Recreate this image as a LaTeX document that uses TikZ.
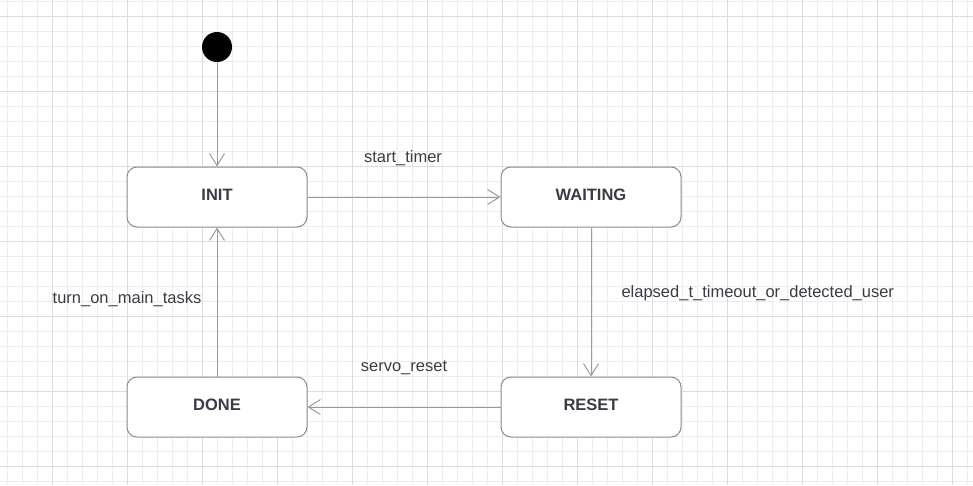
\documentclass[tikz,border=0pt]{standalone}
\usepackage{fontspec}
\setmainfont{Liberation Sans}
\usetikzlibrary{arrows.meta}

\definecolor{gridminor}{HTML}{EDEDED}
\definecolor{gridmajor}{HTML}{DCDCDC}
\definecolor{edgegray}{HTML}{9A9A9A}
\definecolor{boxgray}{HTML}{8A8A8A}
\definecolor{textgray}{HTML}{3B3B45}

\tikzset{
    state/.style={draw=boxgray, fill=white, line width=1pt, rounded corners=10pt,
        minimum width=180pt, minimum height=60pt, text=textgray,
        text height=12pt, text depth=5pt,
        font=\fontsize{16.5}{19}\selectfont\bfseries},
    startdot/.style={circle, fill=black, inner sep=0pt, minimum size=30pt},
    trans/.style={draw=edgegray, line width=1pt, -{Straight Barb[length=12pt,width=15pt]}},
    lbl/.style={text=textgray, font=\fontsize{16.5}{19}\selectfont}
}

\begin{document}
\begin{tikzpicture}[x=1pt,y=-1pt]
                \useasboundingbox (0,0) rectangle (973,485);

                % background grid
                \foreach \x in {7.5,22.5,...,967.5}
                    \draw[gridminor, line width=1pt] (\x,0) -- (\x,485);
                \foreach \y in {1.5,16.5,...,481.5}
                    \draw[gridminor, line width=1pt] (0,\y) -- (973,\y);
                \foreach \x in {52.5,127.5,...,952.5}
                    \draw[gridmajor, line width=1pt] (\x,0) -- (\x,485);
                \foreach \y in {16.5,91.5,...,466.5}
                    \draw[gridmajor, line width=1pt] (0,\y) -- (973,\y);

                \node[startdot] (start) at (217,47) {};
                \node[state] (init) at (217,197) {INIT};
                \node[state] (waiting) at (591,197) {WAITING};
                \node[state] (reset) at (591,407) {RESET};
                \node[state] (done) at (217,407) {DONE};

                \draw[trans] (start) -- (init);
                \draw[trans] (init) -- (waiting);
                \draw[trans] (waiting) -- (reset);
                \draw[trans] (reset) -- (done);
                \draw[trans] (done) -- (init);

                \node[lbl] (lstart) at (403,158) {start\_timer};
                \node[lbl, anchor=west] (lelapsed) at (618,293) {elapsed\_t\_timeout\_or\_detected\_user};
                \node[lbl] (lservo) at (404,368) {servo\_reset};
                \node[lbl] (lturn) at (127,299) {turn\_on\_main\_tasks};

\end{tikzpicture}
\end{document}
